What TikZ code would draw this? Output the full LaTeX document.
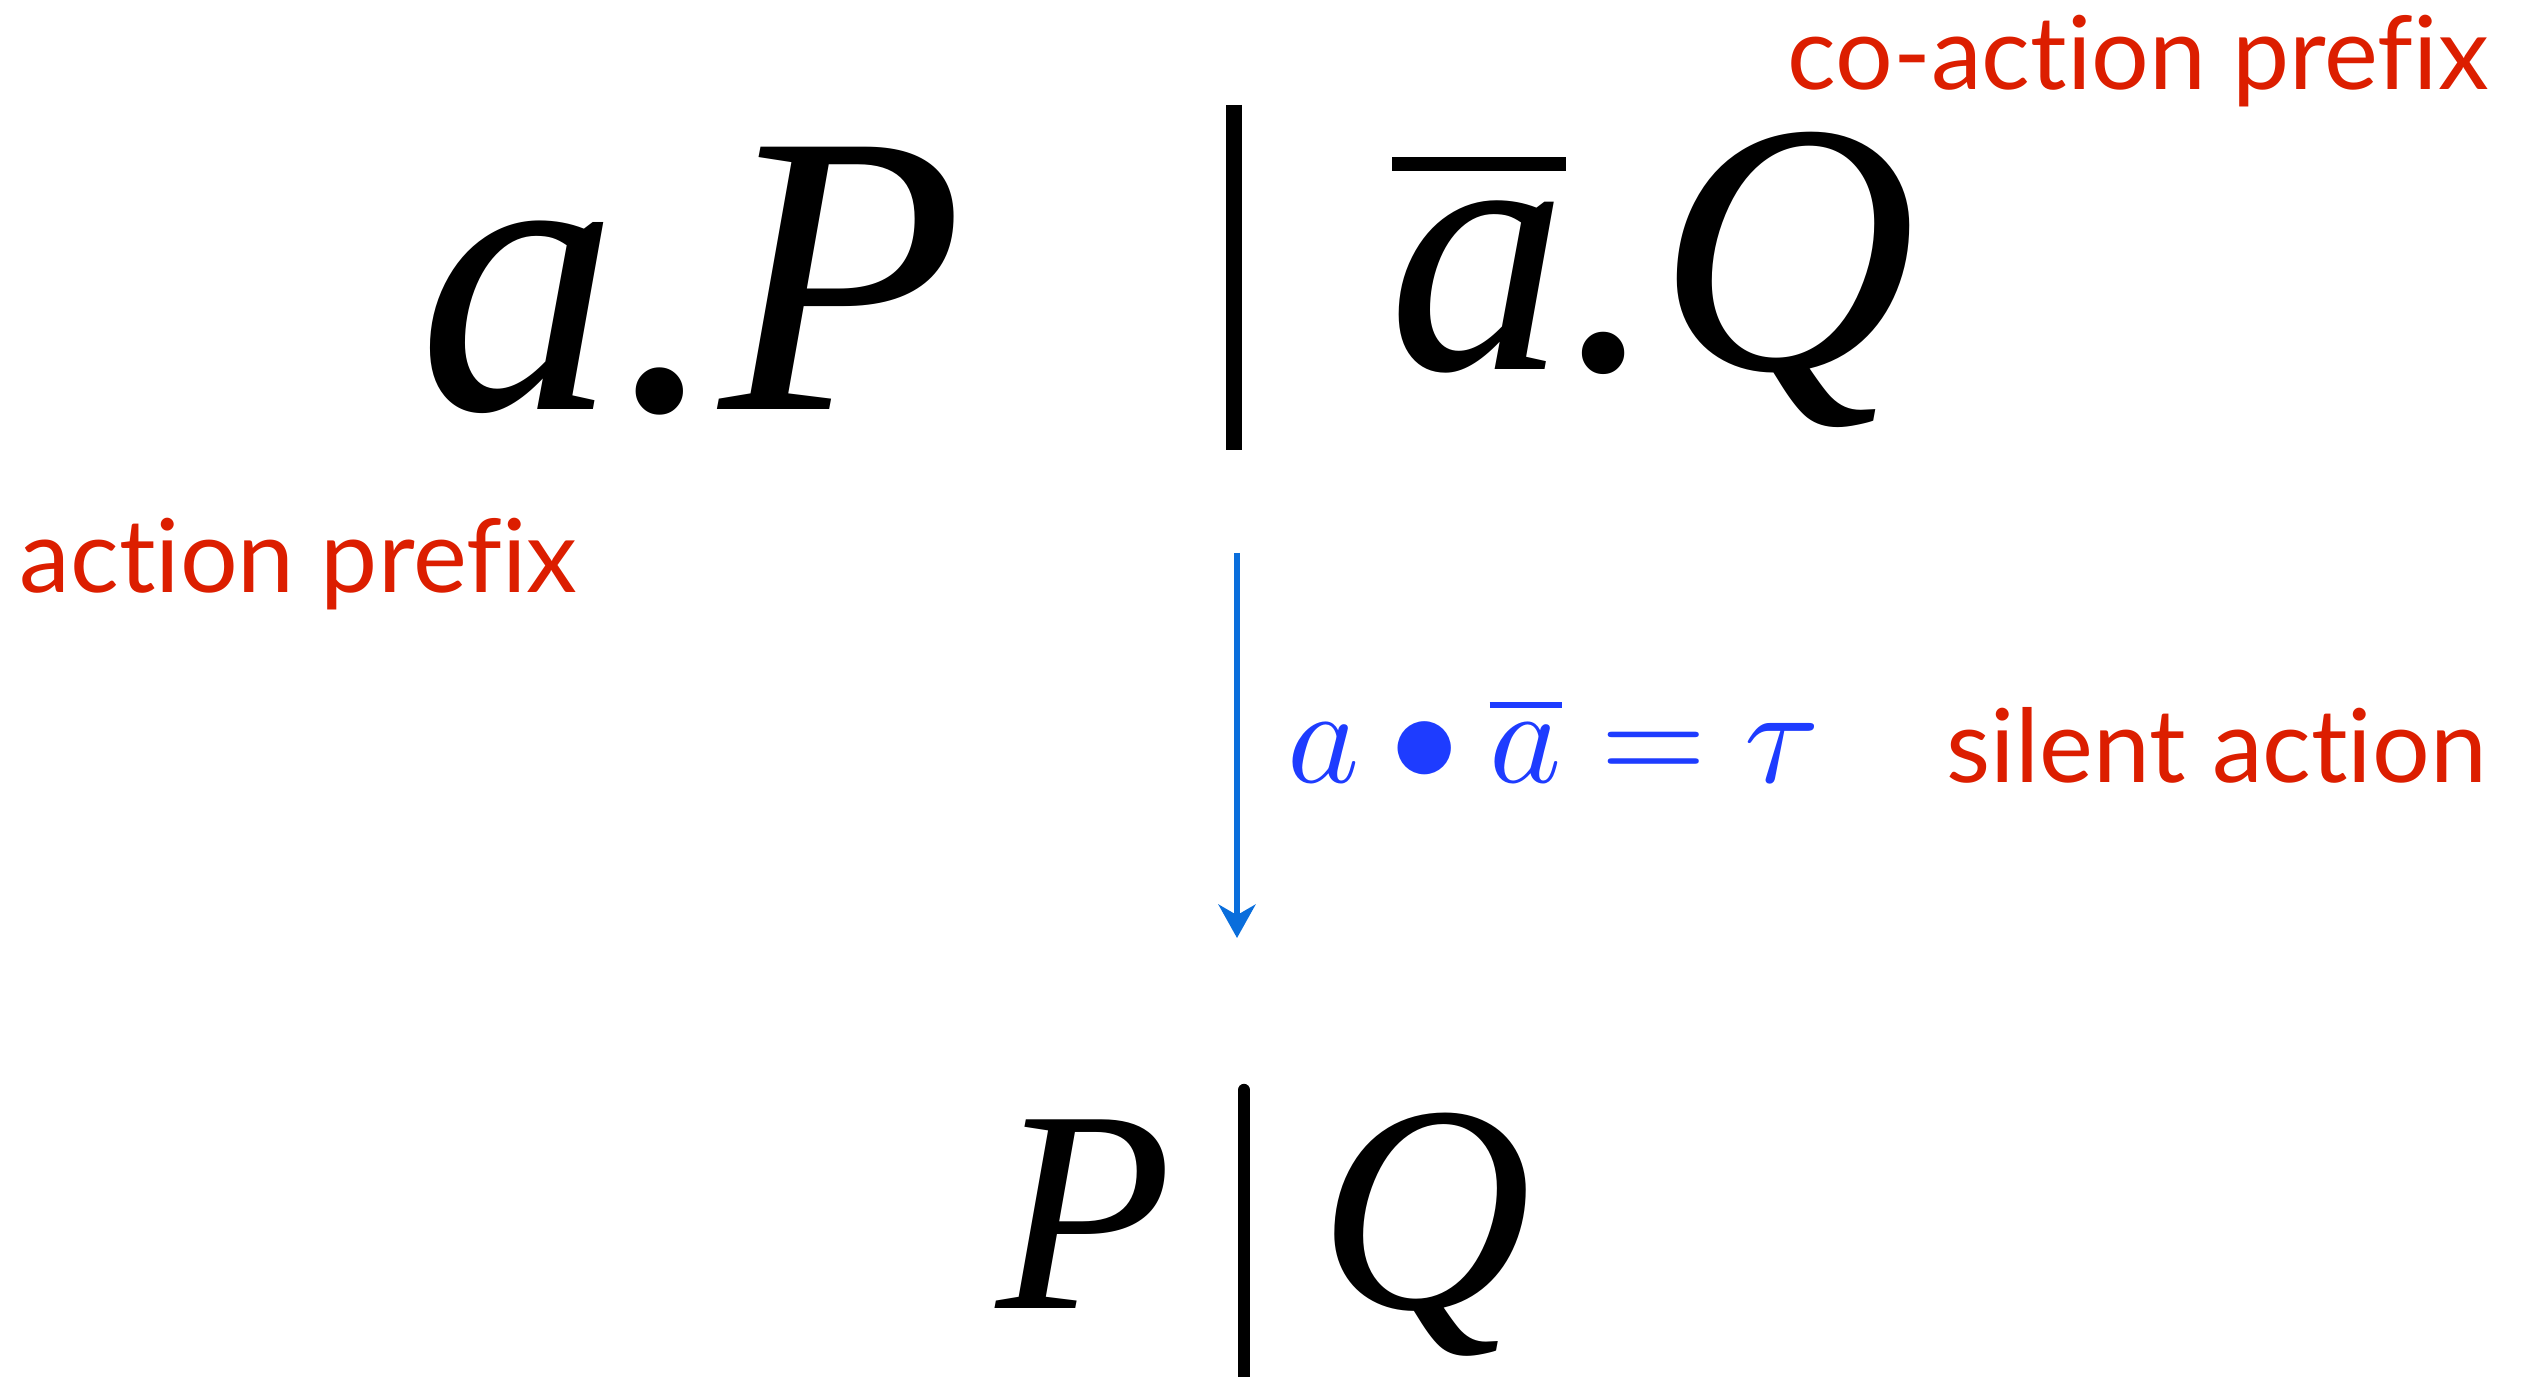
\documentclass[tikz,border=0pt]{standalone}
\usepackage{fontspec}
\usepackage{amsmath}
\usepackage{graphicx}
\usetikzlibrary{arrows.meta, positioning}
\newfontfamily\lblfont[Ligatures={NoCommon,NoDiscretionary}]{Lato}
\newfontfamily\termfont{Liberation Serif}
\definecolor{keyred}{HTML}{DC1E00}
\definecolor{mathblue}{HTML}{1E3CFF}
\definecolor{arrowblue}{HTML}{0A6EDC}
\tikzset{
  redlbl/.style={
    font=\lblfont\fontsize{29}{34}\selectfont, text=keyred,
    inner sep=0pt, anchor=base west
  },
  term/.style={
    font=\termfont\itshape\fontsize{#1}{#1}\selectfont,
    inner sep=0pt, anchor=base west
  },
  parbar/.style={line width=#1, black},
  reduce/.style={-{Stealth[length=9.5pt, width=10.5pt, inset=3pt]},
    line width=1.8pt, arrowblue}
}

\begin{document}
\begin{tikzpicture}
        \useasboundingbox (0,0) rectangle (25.36,13.77);
        % Termino inicial
        \node[term=114] (termleft) at (4.18,9.67) {a.P};
        \node[term=102] (termright) at (13.88,10.07) {a.Q};
        \draw[line width=4pt] (13.92,12.13) -- (15.66,12.13);
        \draw[parbar=4.5pt] (12.34,12.72) -- (12.34,9.27);
        % Etiquetas
        \node[redlbl] (lblcoaction) at (17.87,12.87) {co-action prefix};
        \node[redlbl] (lblaction) at (0.19,7.84) {action prefix};
        % Reduccion
        \coordinate (redtop) at (12.37,8.24);
        \coordinate (redbot) at (12.37,4.39);
        \draw[reduce] (redtop) -- (redbot);
        \node[anchor=base west, inner sep=0pt, text=mathblue] (formula)
          at (12.87,5.94) {\scalebox{3.9}{$a\bullet\overline{a}=\tau$}};
        \node[redlbl] (lblsilent) at (19.46,5.94) {silent action};
        % Resultado
        \node[term=82] (termresP) at (9.96,0.68) {P};
        \draw[parbar=3.5pt, line cap=round] (12.44,2.87) -- (12.44,0);
        \node[term=84] (termresQ) at (13.18,0.68) {Q};
      \end{tikzpicture}
\end{document}
